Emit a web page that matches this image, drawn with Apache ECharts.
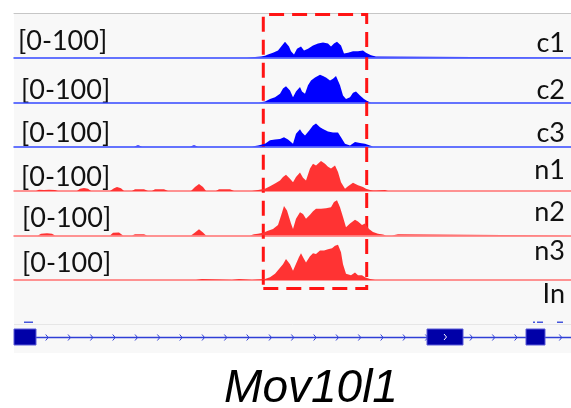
<!DOCTYPE html>
<html>
<head>
<meta charset="utf-8">
<script src="https://cdn.jsdelivr.net/npm/echarts@6/dist/echarts.min.js"></script>
<style>
html, body { margin: 0; padding: 0; background: #fff; }
#chart { width: 571px; height: 408px; }
</style>
</head>
<body>
<div id="chart"></div>
<script>
// view coordinates run 0..557 across the browser window, signal is on the [0-100] scale
var viewStart = 0, viewEnd = 557;
var rangeMin = 0, rangeMax = 100;
var trackNames = ['c1', 'c2', 'c3', 'n1', 'n2', 'n3'];
var emptyTrack = 'In';
var geneName = 'Mov10l1';

var c1 = [[0,0],[233,0],[241,1],[247,2],[251,4],[254,7],[259,11],[264,16],[268,27],[271,36],[275,25],[277,14],[280,7],[283,20],[287,25],[290,16],[294,20],[299,27],[304,32],[309,34],[314,32],[317,25],[320,32],[323,36],[327,27],[330,9],[334,11],[339,14],[344,14],[349,16],[352,11],[357,5],[362,2],[364,0],[557,0]];
var c2 = [[0,0],[245,0],[251,2],[256,8],[261,12],[266,20],[269,32],[272,37],[276,27],[279,12],[282,25],[286,35],[288,25],[291,20],[294,39],[297,50],[301,57],[306,63],[309,60],[312,57],[316,50],[319,54],[322,60],[326,39],[329,16],[332,8],[336,12],[339,22],[342,25],[346,16],[350,8],[354,2],[357,0],[557,0]];
var c3 = [[0,0],[120,0],[124,3],[128,0],[176,0],[180,3],[184,0],[238,0],[244,2],[251,6],[256,14],[261,16],[266,17],[270,21],[274,16],[279,6],[282,29],[286,39],[288,32],[291,25],[295,36],[299,48],[302,52],[306,44],[309,40],[314,34],[319,32],[324,32],[327,21],[331,6],[336,2],[341,10],[346,8],[351,6],[356,2],[359,0],[557,0]];
var n1 = [[0,0],[22,0],[25,3],[30,2],[35,3],[41,2],[44,0],[63,0],[66,5],[70,7],[74,5],[77,0],[96,0],[100,6],[103,9],[107,6],[110,0],[118,0],[121,4],[130,4],[134,0],[138,0],[141,4],[150,4],[154,0],[177,0],[181,9],[185,16],[189,9],[192,0],[202,0],[205,4],[216,4],[220,0],[238,0],[244,2],[251,5],[256,11],[261,17],[266,24],[269,32],[272,37],[276,28],[279,20],[282,32],[286,42],[289,30],[292,24],[296,51],[299,62],[302,58],[307,68],[311,62],[314,55],[317,51],[321,58],[324,43],[327,20],[331,5],[334,11],[339,19],[344,13],[349,9],[352,5],[356,2],[359,1],[362,1],[364,2],[371,2],[374,0],[557,0]];
var n2 = [[0,0],[24,0],[27,4],[33,5],[38,4],[41,0],[96,0],[99,6],[105,7],[109,0],[118,0],[121,3],[130,3],[133,0],[177,0],[181,7],[185,14],[189,7],[192,0],[236,0],[240,3],[244,4],[249,6],[254,11],[259,15],[264,24],[267,45],[270,67],[273,57],[277,27],[279,15],[282,38],[286,53],[289,49],[292,38],[296,47],[299,55],[302,61],[307,61],[312,62],[317,64],[320,76],[323,80],[326,64],[329,42],[332,19],[336,27],[341,36],[344,32],[348,24],[351,27],[355,15],[359,8],[364,4],[369,2],[372,0],[378,0],[379,3],[384,3],[385,0],[557,0]];
var n3 = [[0,0],[27,0],[29,2],[31,0],[182,0],[184,2],[188,2],[190,0],[218,0],[220,2],[225,2],[227,0],[238,0],[244,1],[251,2],[256,6],[261,14],[265,25],[269,36],[272,48],[276,36],[279,21],[281,17],[285,52],[287,61],[290,48],[292,40],[296,54],[299,61],[302,59],[306,67],[310,67],[314,70],[318,72],[321,78],[324,80],[327,63],[329,36],[332,14],[337,11],[341,17],[344,11],[348,11],[351,6],[356,2],[361,0],[557,0]];
var tracks = [c1, c2, c3, n1, n2, n3];

var geneSpan = [[viewStart, viewEnd]];
var exons = [[0, 22], [413, 449], [512, 531]];
var otherFeatures = [[10, 19], [519, 521], [523, 529], [543, 549]];
var highlight = [249.3, 352.7];

// layout
var fills = ['#0000ff', '#0000ff', '#0000ff', '#ff3333', '#ff3333', '#ff3333'];
var baseColors = ['#3347ff', '#3347ff', '#3347ff', '#ff7070', '#ff7070', '#ff7070'];
var baselines = [57.5, 102.5, 146.5, 191, 235.5, 280];
var trackH = 44;
var rangeX = [18, 21, 21, 21, 22, 22];
var rangeY = [41.5, 90, 133, 177, 218, 263];
var nameY = [43, 90, 133, 170.5, 212.5, 251, 294];
var labelFont = '27px Lato, "Liberation Sans", sans-serif';

var chart = echarts.init(document.getElementById('chart'));

var grids = [], xAxes = [], yAxes = [], series = [], graphics = [];

function addGrid(g, xAxisOpt, yMin, yMax) {
    var idx = grids.length;
    grids.push(g);
    xAxes.push(Object.assign({
        gridIndex: idx, type: 'value', min: viewStart, max: viewEnd,
        axisLine: { show: false, onZero: false }, axisTick: { show: false },
        axisLabel: { show: false }, splitLine: { show: false }
    }, xAxisOpt || {}));
    yAxes.push({ gridIndex: idx, type: 'value', min: yMin, max: yMax, show: false });
    return idx;
}

// grey panel behind all tracks
addGrid({ left: 14, right: 0, top: 13, height: 340, show: true, backgroundColor: '#f8f8f8', borderWidth: 0 },
    { position: 'top', axisLine: { show: true, onZero: false, lineStyle: { color: '#c6c6c6', width: 1 } } }, 0, 1);

// coverage tracks
trackNames.forEach(function (name, i) {
    var k = addGrid({ left: 14, right: 0, top: baselines[i] - trackH, height: trackH },
        { axisLine: { show: true, onZero: false, lineStyle: { color: baseColors[i], width: 1.5 } } },
        rangeMin, rangeMax);
    series.push({
        name: name, type: 'line', xAxisIndex: k, yAxisIndex: k, data: tracks[i],
        symbol: 'none', showSymbol: false, silent: true, animation: false,
        lineStyle: { width: 0 }, areaStyle: { color: fills[i], opacity: 1 }
    });
    graphics.push({ type: 'text', x: rangeX[i], y: rangeY[i], silent: true,
        style: { text: '[' + rangeMin + '-' + rangeMax + ']', font: labelFont, fill: '#111', textAlign: 'left', textVerticalAlign: 'middle' } });
    graphics.push({ type: 'text', x: 565, y: nameY[i], silent: true,
        style: { text: name, font: labelFont, fill: '#111', textAlign: 'right', textVerticalAlign: 'middle' } });
});
graphics.push({ type: 'text', x: 565, y: nameY[6], silent: true,
    style: { text: emptyTrack, font: labelFont, fill: '#111', textAlign: 'right', textVerticalAlign: 'middle' } });

// small features above the gene
var kf = addGrid({ left: 14, right: 0, top: 321.5, height: 1.5 }, null, 0, 1);
series.push({
    type: 'custom', xAxisIndex: kf, yAxisIndex: kf, data: otherFeatures, silent: true, animation: false,
    renderItem: function (params, api) {
        var a = api.coord([api.value(0), 1]), b = api.coord([api.value(1), 0]);
        return { type: 'rect', shape: { x: a[0], y: a[1], width: b[0] - a[0], height: b[1] - a[1] }, style: { fill: '#4556dc' } };
    }
});

// gene model
var lineColor = '#2f3fd6';
var chevronStep = 22.33, chevronStart = 32.7;
var kg = addGrid({ left: 14, right: 0, top: 329, height: 16 }, null, 0, 1);
series.push({
    type: 'custom', xAxisIndex: kg, yAxisIndex: kg, data: geneSpan, silent: true, animation: false,
    renderItem: function (params, api) {
        var a = api.coord([api.value(0), 0.5]), b = api.coord([api.value(1), 0.5]);
        var y = Math.round(a[1]) + 0.5;
        var kids = [{ type: 'line', shape: { x1: a[0], y1: y, x2: b[0], y2: y }, style: { stroke: lineColor, lineWidth: 1.5 } }];
        for (var px = a[0] + chevronStart; px < b[0]; px += chevronStep) {
            kids.push({ type: 'polyline', shape: { points: [[px - 1, y - 3], [px + 1.5, y], [px - 1, y + 3]] },
                style: { stroke: lineColor, fill: null, lineWidth: 1 } });
        }
        return { type: 'group', children: kids };
    }
});
series.push({
    type: 'custom', xAxisIndex: kg, yAxisIndex: kg, data: exons, silent: true, animation: false,
    renderItem: function (params, api) {
        var a = api.coord([api.value(0), 1]), b = api.coord([api.value(1), 0]);
        var w = b[0] - a[0], cy = (a[1] + b[1]) / 2;
        var kids = [{ type: 'rect', shape: { x: a[0], y: a[1], width: w, height: b[1] - a[1] },
            style: { fill: '#0000a8', stroke: '#5a5ad8', lineWidth: 1 } }];
        if (w > 30) {
            var cx = a[0] + w / 2;
            kids.push({ type: 'polyline', shape: { points: [[cx - 1, cy - 3], [cx + 1.5, cy], [cx - 1, cy + 3]] },
                style: { stroke: '#ffffff', fill: null, lineWidth: 1 } });
        }
        return { type: 'group', children: kids };
    }
});

// dashed highlight box across the coverage tracks
var kb = addGrid({ left: 14, right: 0, top: 14.5, height: 274 }, null, 0, 1);
series.push({
    type: 'line', xAxisIndex: kb, yAxisIndex: kb, data: [], silent: true, animation: false, z: 10,
    markArea: {
        silent: true, label: { show: false },
        itemStyle: { color: 'rgba(0,0,0,0)', borderColor: '#ff1414', borderWidth: 3, borderType: [15, 8] },
        data: [[{ xAxis: highlight[0], yAxis: 0 }, { xAxis: highlight[1], yAxis: 1 }]]
    }
});

graphics.push({ type: 'line', silent: true, shape: { x1: 14, y1: 324.5, x2: 571, y2: 324.5 }, style: { stroke: '#e6e6e6', lineWidth: 1 } });
graphics.push({ type: 'text', x: 311, y: 389, silent: true,
    style: { text: geneName, font: 'italic 46px "Liberation Sans", Arial, sans-serif', fill: '#000', textAlign: 'center', textVerticalAlign: 'middle' } });

chart.setOption({
    animation: false,
    backgroundColor: '#ffffff',
    grid: grids,
    xAxis: xAxes,
    yAxis: yAxes,
    series: series,
    graphic: graphics
});
</script>
</body>
</html>
